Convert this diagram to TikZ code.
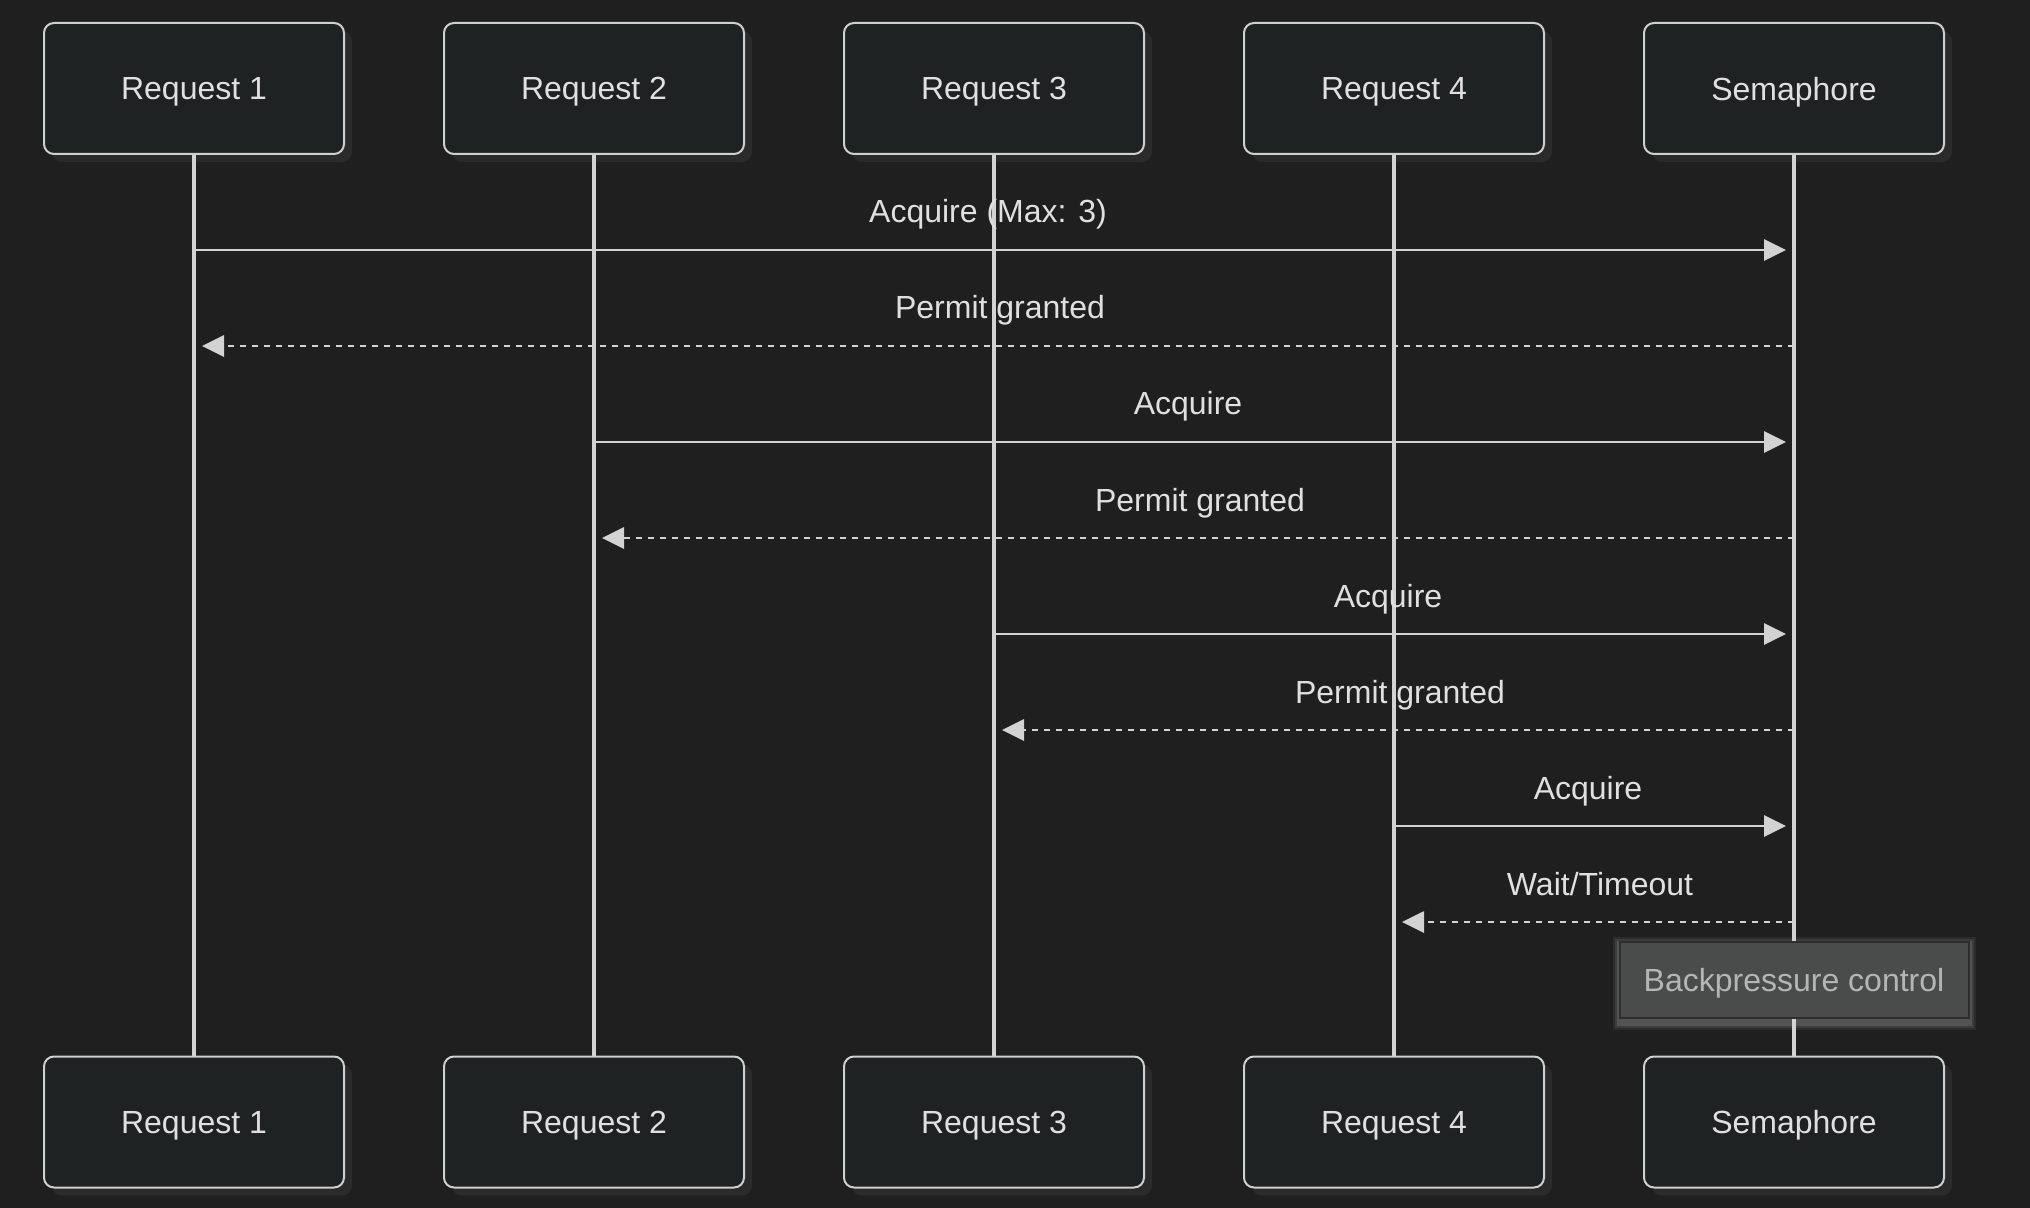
\documentclass[tikz,border=0pt]{standalone}
\usepackage{fontspec}
\setmainfont{Liberation Sans}
\usetikzlibrary{arrows.meta,positioning,shadows,backgrounds}
\definecolor{BG}{HTML}{1F1F1F}
\definecolor{BoxFill}{HTML}{1E2222}
\definecolor{BoxLine}{HTML}{D0D0D0}
\definecolor{TextC}{HTML}{E0E0E0}
\definecolor{LineC}{HTML}{D3D3D3}
\definecolor{NoteFill}{HTML}{4A4C4C}
\definecolor{NoteLine}{HTML}{2E2E2E}
\definecolor{NoteText}{HTML}{B5B5B5}
\definecolor{ShadowC}{HTML}{2B2B2B}

\tikzset{
  actor/.style={draw=BoxLine, line width=1pt, fill=BoxFill,
    rounded corners=5pt, minimum width=150pt, minimum height=65.5pt,
    text=TextC, text depth=0pt, font=\fontsize{16}{19}\selectfont,
    drop shadow={shadow xshift=4pt, shadow yshift=-4pt,
      fill=ShadowC, opacity=1}},
  lifeline/.style={draw=LineC, line width=2pt},
  msg/.style={draw=LineC, line width=1.4pt,
    -{Triangle[length=11pt,width=10.5pt]}, shorten >=4pt},
  reply/.style={msg, dash pattern=on 3pt off 3pt},
  msglabel/.style={anchor=base, text=TextC, inner sep=0pt,
    font=\fontsize{16}{19}\selectfont},
  notebox/.style={draw=NoteLine, line width=1pt, fill=NoteFill,
    text=NoteText, minimum width=174.5pt, minimum height=38pt,
    inner sep=0pt, text depth=0pt, font=\fontsize{16}{19}\selectfont}
}

\begin{document}
\begin{tikzpicture}[x=0.5pt, y=-0.5pt]
  \begin{scope}[on background layer]
    \fill[BG] (0,0) rectangle (2030,1208);
  \end{scope}
  \useasboundingbox (0,0) rectangle (2030,1208);
  %% participants, top and bottom row
  \foreach \i/\who in {1/Request 1,2/Request 2,3/Request 3,4/Request 4,5/Semaphore}{
    \node[actor] (top\i) at ({194+400*(\i-1)},88.5) {\who};
    \node[actor] (bot\i) at ({194+400*(\i-1)},1122) {\who};
  }
  %% lifelines
  \foreach \i in {1,...,5}
    \draw[lifeline] (top\i.south) -- (bot\i.north);
  %% message rows
  \foreach \k in {1,...,8}
    \coordinate (row\k) at (0,{154+96*\k});
  \foreach \src/\dst/\k/\txt/\sty in {1/5/1/{Acquire (Max: 3)}/msg,
      5/1/2/{Permit granted}/reply, 2/5/3/{Acquire}/msg,
      5/2/4/{Permit granted}/reply, 3/5/5/{Acquire}/msg,
      5/3/6/{Permit granted}/reply, 4/5/7/{Acquire}/msg,
      5/4/8/{Wait/Timeout}/reply}{
    \draw[\sty] (top\src |- row\k) -- (top\dst |- row\k)
      node[msglabel, midway, yshift=13.5pt,
           xshift={sign(\src-\dst)*3pt}] (lbl\k) {\txt};
  }
  %% note over semaphore
  \coordinate (noterow) at (0,980);
  \node[notebox] (note) at (top5 |- noterow) {Backpressure control};
  \begin{scope}[on background layer]
    \foreach \g/\op in {3/0.06,2/0.08,1/0.12}
      \fill[white, opacity=\op]
        ([xshift=-\g pt, yshift=-\g pt-2.5pt]note.south west)
        rectangle ([xshift=\g pt, yshift=\g pt-1pt]note.north east);
  \end{scope}
\end{tikzpicture}
\end{document}
